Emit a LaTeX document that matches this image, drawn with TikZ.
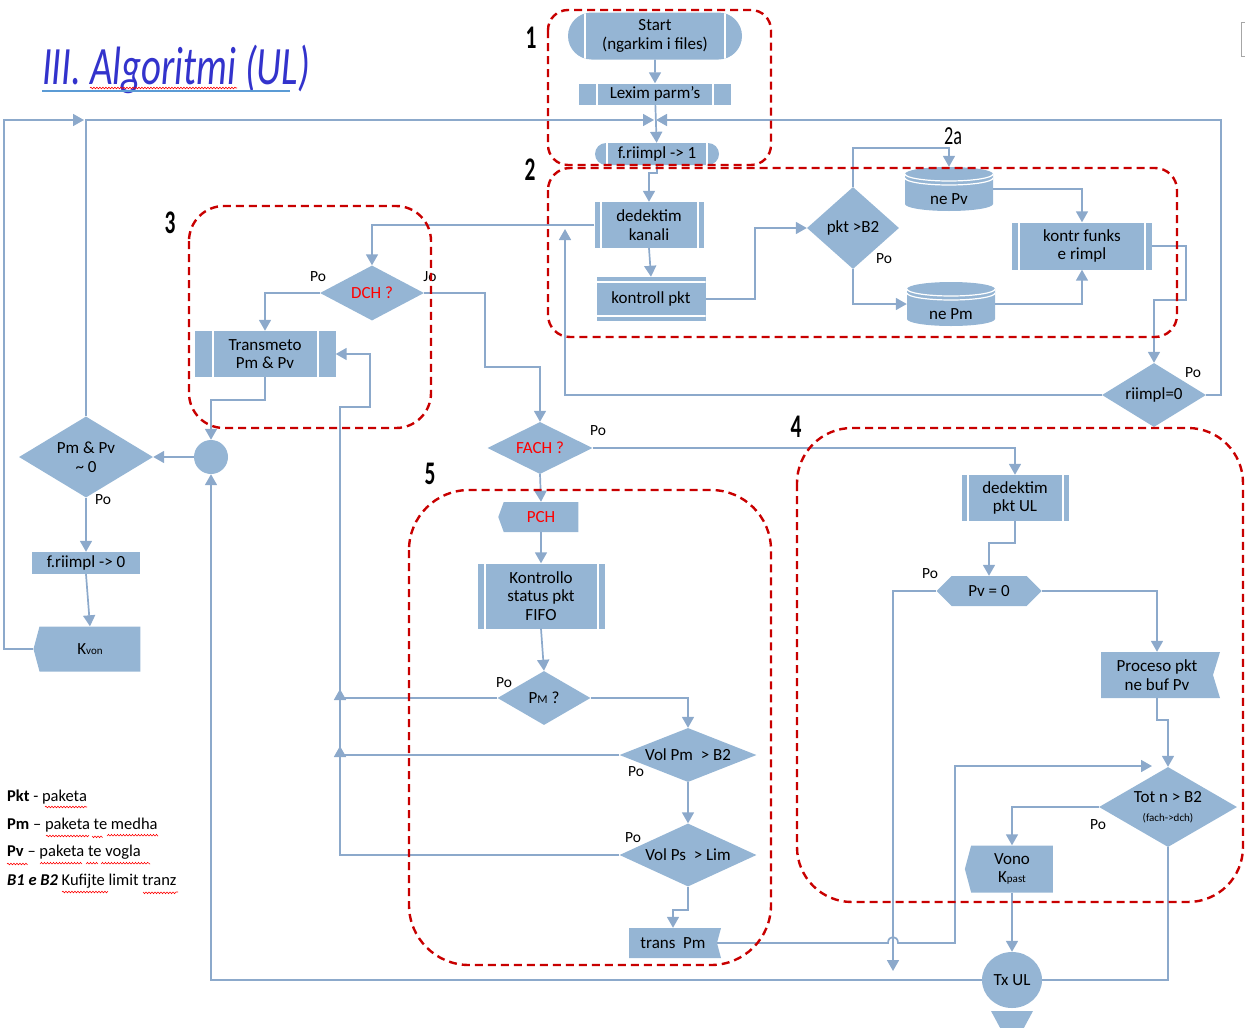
\documentclass[tikz,border=0pt]{standalone}
\usepackage{fontspec}
\setmainfont{Carlito}
\usepackage{tikz}
\usetikzlibrary{arrows.meta,shapes.geometric,shapes.misc,shapes.symbols,decorations.pathmorphing}

\definecolor{boxfill}{RGB}{149,181,212}
\definecolor{flow}{RGB}{140,169,203}
\definecolor{grpred}{RGB}{200,0,0}
\definecolor{titleblue}{RGB}{51,51,204}
\definecolor{uline}{RGB}{91,155,213}

% drum body for the two buffers (drawn inside the node)
\newcommand\drumbody{%
  \fill[boxfill] ([yshift=-7pt]path picture bounding box.north west)
    -- ([yshift=7pt]path picture bounding box.south west)
    arc[start angle=180, end angle=360, x radius=44pt, y radius=7pt]
    -- ([yshift=-7pt]path picture bounding box.north east)
    arc[start angle=0, end angle=180, x radius=44pt, y radius=7pt] -- cycle;
  \draw[white, line width=1.2pt] ([yshift=-7pt]path picture bounding box.north west)
    arc[start angle=180, end angle=360, x radius=44pt, y radius=7pt];
  \draw[white, line width=1.2pt] ([yshift=-11pt]path picture bounding box.north west)
    arc[start angle=180, end angle=360, x radius=44pt, y radius=7pt];
}

\tikzset{
  blk/.style={fill=boxfill, inner sep=1pt, align=center, font=\fontsize{17}{18.5}\selectfont},
  sz/.style 2 args={minimum width=#1pt, minimum height=#2pt},
  vbars/.style={path picture={\draw[white,line width=2pt]
      ([xshift=#1pt]path picture bounding box.south west) -- ([xshift=#1pt]path picture bounding box.north west)
      ([xshift=-#1pt]path picture bounding box.south east) -- ([xshift=-#1pt]path picture bounding box.north east);}},
  hbars/.style={path picture={\draw[white,line width=2pt]
      ([yshift=#1pt]path picture bounding box.south west) -- ([yshift=#1pt]path picture bounding box.south east)
      ([yshift=-#1pt]path picture bounding box.north west) -- ([yshift=-#1pt]path picture bounding box.north east);}},
  pill/.style={blk, rounded rectangle},
  dec/.style={blk, diamond, label={[align=center, font=\fontsize{17}{18.5}\selectfont]center:#1}},
  db/.style={rectangle, inner sep=0pt, path picture={\drumbody},
      label={[yshift=-10pt, font=\fontsize{17}{18.5}\selectfont]center:#1}},
  tagl/.style={blk, signal, signal to=west, signal pointer angle=#1},
  tagr/.style={blk, signal, signal to=nowhere, signal from=east, signal pointer angle=#1},
  hexa/.style={blk, signal, signal to=east and west, signal pointer angle=90},
  dot/.style={blk, circle},
  flw/.style={draw=flow, line width=1.7pt},
  arr/.style={flw, -{Triangle[length=11pt,width=12pt]}},
  grp/.style={draw=grpred, line width=2.4pt, dash pattern=on 8pt off 5pt, rounded corners=#1pt},
  num/.style={font=\fontsize{33}{33}\selectfont\bfseries, xscale=.65, inner sep=0pt},
  yes/.style={font=\fontsize{15.5}{15.5}\selectfont, inner sep=0pt},
  legend/.style={anchor=west, inner sep=0pt, font=\fontsize{16.5}{18}\selectfont},
  spell/.style={draw=red, line width=.6pt, decorate, decoration={snake, amplitude=.8pt, segment length=3pt}}
}

\begin{document}
\begin{tikzpicture}[x=1pt,y=-1pt]
\useasboundingbox (0,0) rectangle (1245,1028);
\clip (0,0) rectangle (1245,1028);

% title
\node[anchor=base west, text=titleblue, font=\fontsize{54}{54}\selectfont\itshape, xscale=.72, inner sep=0pt] (title) at (42,84) {III. Algoritmi (UL)};
\draw[uline, line width=1.2pt] (42,91) -- (290,91);
\draw[spell] (90,88) -- (237,88);

% group 1
\node[pill, vbars=17, sz={176}{47}] (start) at (655,36) {Start\\(ngarkim i files)};
\node[blk, vbars=18, sz={152}{21}] (lexim) at (655,94) {Lexim parm's};
\node[pill, vbars=12, sz={126}{22}] (rimpl1) at (657,154) {f.riimpl -> 1};
\coordinate (merge) at (655,120);

% group 2
\node[blk, vbars=6, sz={109}{46}] (dedkan) at (649,225) {dedektim\\kanali};
\node[blk, hbars=5, sz={109}{44}] (kontroll) at (651,299) {kontroll pkt};
\node[dec={pkt >B2}, sz={92}{82}] (pktb) at (853,228) {};
\node[db={ne Pv}, sz={88}{44}] (nepv) at (949,189) {};
\node[db={ne Pm}, sz={88}{44}] (nepm) at (951,304) {};
\node[blk, vbars=7, sz={140}{47}] (kontr) at (1082,246) {kontr funks\\e rimpl};
\node[dec={riimpl=0}, sz={104}{64}] (riimpl) at (1154,395) {};
\coordinate (upkan) at (565,229);

% group 3 and the left loop
\node[dec={\textcolor{red}{DCH ?}}, sz={104}{55}] (dch) at (372,293) {};
\node[blk, vbars=18, sz={141}{46}] (transm) at (265,354) {Transmeto\\Pm \& Pv};
\node[dot, minimum size=34pt] (junc) at (211,457) {};
\node[dec={Pm \& Pv\\{\textasciitilde} 0}, sz={134}{81}] (pmpv) at (86,457) {};
\node[blk, sz={108}{22}] (rimpl0) at (86,563) {f.riimpl -> 0};
\node[tagl=150, sz={107}{45}] (kvon) at (90,649) {K{\fontsize{11}{11}\selectfont von}};
\coordinate (kvback) at (84,120);

% group 5
\node[dec={\textcolor{red}{FACH ?}}, sz={105}{52}] (fach) at (540,448) {};
\node[tagl=140, sz={80}{30}, text=red] (pch) at (541,517) {PCH};
\node[blk, vbars=7, sz={127}{65}] (kontrollo) at (541,596) {Kontrollo\\status pkt\\FIFO};
\node[dec={P{\fontsize{12}{12}\selectfont M} ?}, sz={93}{54}] (pm) at (544,698) {};
\node[dec={Vol Pm\ \ > B2}, sz={137}{54}] (volpm) at (688,755) {};
\node[dec={Vol Ps\ \ > Lim}, sz={137}{63}] (volps) at (688,855) {};
\node[tagr=150, sz={92}{30}] (transpm) at (673,943) {trans\ \ Pm};
\coordinate (ret) at (340,407);
\coordinate (upA) at (340,746);
\coordinate (upB) at (340,689);

% group 4
\node[blk, vbars=6, sz={107}{46}] (dedpkt) at (1015,498) {dedektim\\pkt UL};
\node[hexa, sz={105}{30}] (pvz) at (989,591) {Pv = 0};
\node[tagr=146, sz={119}{46}] (proceso) at (1157,675) {Proceso pkt\\ne buf Pv};
\node[dec={Tot n > B2\\{\fontsize{11}{12}\selectfont (fach->dch)}}, sz={138}{80}] (tot) at (1168,807) {};
\node[tagl=150, sz={88}{47}] (vono) at (1012,869) {Vono\\K{\fontsize{11}{11}\selectfont past}};
\node[blk, ellipse, sz={60}{56}] (txul) at (1012,980) {Tx UL};
\fill[boxfill] (991,1011) -- (1033,1011) -- (1012,1050) -- cycle;
\coordinate (pvdown) at (893,971);
\coordinate (totin) at (1152,766);

% connectors
\draw[arr] (start) -- (lexim);
\draw[arr] (lexim) -- (rimpl1);
\draw[arr, shorten >=1pt] (pmpv.north) |- (merge);
\draw[arr, shorten >=1pt] (riimpl.east) -- ++(15,0) |- (merge);
\draw[arr] (rimpl1.south) -- ++(0,8) -| (dedkan.north);
\draw[arr] (dedkan.south) -- (kontroll.north);
\draw[arr] (kontroll.east) -- ++(49,0) |- (pktb.west);
\draw[arr] (pktb.north) -- ++(0,-39) -| (nepv.north);
\draw[arr] (pktb.south) |- (nepm.west);
\draw[arr] (nepv.east) -| (kontr.north);
\draw[arr] (nepm.east) -| (kontr.south);
\draw[arr] (kontr.east) -- ++(34,0) -- ++(0,54) -| (riimpl.north);
\draw[arr] (riimpl.west) -| (upkan);
\draw[arr] (dedkan.west) -| (dch.north);
\draw[arr] (dch.west) -| (transm.north);
\draw[arr] (dch.east) -- ++(61,0) -- ++(0,74) -| (fach.north);
\draw[arr] (transm.south) -- ++(0,23) -| (junc.north);
\draw[arr] (junc.west) -- (pmpv.east);
\draw[arr] (pmpv.south) -- (rimpl0.north);
\draw[arr] (rimpl0.south) -- (kvon.north);
\draw[arr] (kvon.west) -- ++(-29,0) |- (kvback);
\draw[arr] (txul.west) -| (junc.south);
\draw[arr] (fach.east) -| (dedpkt.north);
\draw[arr] (fach.south) -- (pch.north);
\draw[arr] (pch.south) -- (kontrollo.north);
\draw[arr] (kontrollo.south) -- (pm.north);
\draw[arr] (pm.east) -| (volpm.north);
\draw[arr] (volpm.south) -- (volps.north);
\draw[arr] (volps.south) -- ++(0,23) -| (transpm.north);
\draw[arr] (pm.west) -| (ret) -- ++(30,0) |- (transm.east);
\draw[arr] (volpm.west) -| (upB);
\draw[arr] (volps.west) -| (upA);
\draw[arr] (transpm.east) -- (888,943) .. controls (888,935) and (898,935) .. (898,943) -- (955,943) |- (totin);
\draw[arr] (dedpkt.south) -- ++(0,22) -| (pvz.north);
\draw[arr] (pvz.west) -| (pvdown);
\draw[arr] (pvz.east) -| (proceso.north);
\draw[arr] (proceso.south) -- ++(0,22) -| (tot.north);
\draw[arr] (tot.west) -| (vono.north);
\draw[arr] (vono.south) -- (txul.north);
\draw[flw] (tot.south) |- (txul.east);

% Po / Jo
\node[yes] (p1) at (318,277) {Po};
\node[yes] (j1) at (430,277) {Jo};
\node[yes] (p2) at (884,259) {Po};
\node[yes] (p3) at (1193,373) {Po};
\node[yes] (p4) at (103,500) {Po};
\node[yes] (p5) at (598,431) {Po};
\node[yes] (p6) at (504,683) {Po};
\node[yes] (p7) at (636,772) {Po};
\node[yes] (p8) at (633,838) {Po};
\node[yes] (p9) at (930,574) {Po};
\node[yes] (p10) at (1098,825) {Po};

% dashed groups
\draw[grp=20] (548,10) rectangle (771,165);
\draw[grp=22] (548,168) rectangle (1177,337);
\draw[grp=35] (189,206) rectangle (431,428);
\draw[grp=55] (797,428) rectangle (1243,902);
\draw[grp=60] (409,490) rectangle (771,965);
\node[num] (n1) at (531,38) {1};
\node[num] (n2) at (530,170) {2};
\node[num] (n3) at (170,223) {3};
\node[num] (n4) at (796,427) {4};
\node[num] (n5) at (430,474) {5};
\node[font=\fontsize{26}{26}\selectfont, xscale=.7, inner sep=0pt] (n2a) at (953,136) {2a};

% legend
\node[legend] (lg1) at (7,797) {\textbf{Pkt} - paketa};
\node[legend] (lg2) at (7,825) {\textbf{Pm} – paketa te medha};
\node[legend] (lg3) at (7,852) {\textbf{Pv} – paketa te vogla};
\node[legend] (lg4) at (7,881) {\textbf{\textit{B1 e B2}} Kufijte limit tranz};
\draw[spell] (45,807) -- (87,807);
\draw[spell] (46,836) -- (88,836) (92,836) -- (103,836) (107,836) -- (158,836);
\draw[spell] (7,864) -- (27,864) (40,864) -- (82,864) (86,864) -- (97,864) (101,864) -- (150,864);
\draw[spell] (62,892) -- (107,892) (143,892) -- (178,892);

% piece at the right edge
\draw[gray!70, line width=1pt] (1245,22) -- (1241,22) -- (1241,56) -- (1245,56);
\end{tikzpicture}
\end{document}
